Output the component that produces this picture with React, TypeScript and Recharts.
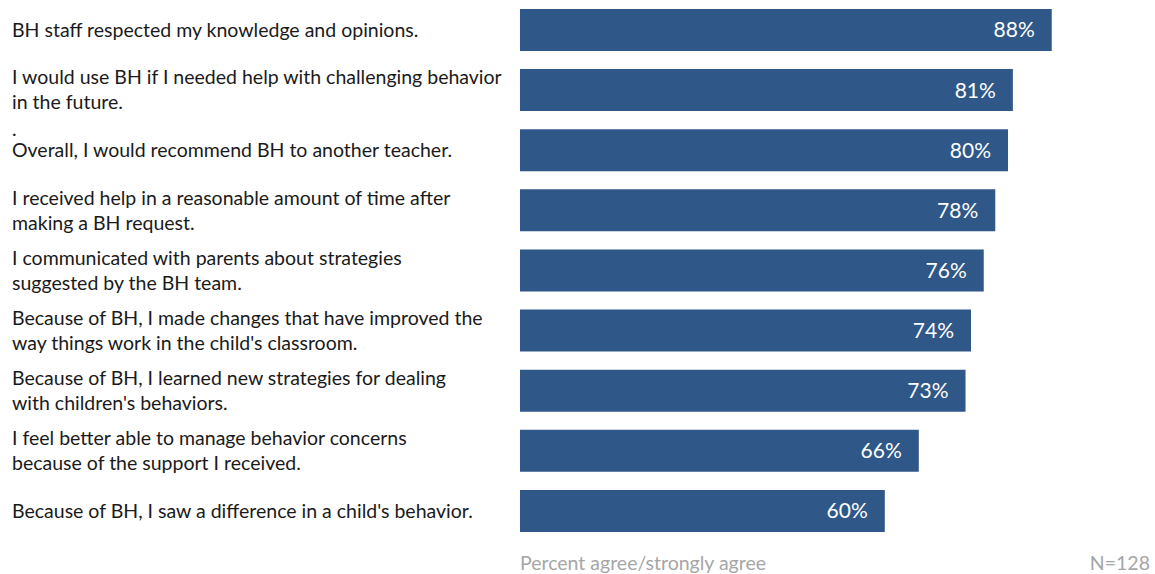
import { BarChart, Bar, XAxis, YAxis, LabelList } from 'recharts'

// statements, top to bottom ("|" = line break)
const statements = [
  'BH staff respected my knowledge and opinions.',
  'I would use BH if I needed help with challenging behavior|in the future.',
  '.|Overall, I would recommend BH to another teacher.',
  'I received help in a reasonable amount of time after|making a BH request.',
  'I communicated with parents about strategies|suggested by the BH team.',
  'Because of BH, I made changes that have improved the|way things work in the child\'s classroom.',
  'Because of BH, I learned new strategies for dealing|with children\'s behaviors.',
  'I feel better able to manage behavior concerns|because of the support I received.',
  'Because of BH, I saw a difference in a child\'s behavior.',
]

// percent agree / strongly agree
const agree = [87.6, 81.2, 80.4, 78.3, 76.4, 74.3, 73.4, 65.7, 60.1]

const data = statements.map((s, i) => ({ statement: s, agree: agree[i] }))

const FONT = 'Lato, "Open Sans", sans-serif'
const GREY = '#a6a6a6'

function StatementTick(props: any) {
  const { y, payload } = props
  const lines: string[] = String(payload.value).split('|')
  const lead = lines[0] === '.' ? 1 : 0
  const rest = lines.slice(lead)
  const lh = 25
  const first = y - ((rest.length - 1) * lh) / 2
  return (
    <text x={12} y={first} textAnchor="start" fontSize={19.5} fill="#1a1a1a" fontFamily={FONT}>
      {lead ? (
        <tspan x={12} y={first - 21} dy="0.35em">
          .
        </tspan>
      ) : null}
      {rest.map((l, i) => (
        <tspan key={i} x={12} y={first + i * lh} dy="0.35em">
          {l}
        </tspan>
      ))}
    </text>
  )
}

export default function App() {
  return (
    <div
      style={{
        position: 'fixed',
        left: 0,
        top: 0,
        width: 1155,
        height: 574,
        overflow: 'hidden',
        background: '#fff',
      }}
    >
      <BarChart
        width={1155}
        height={574}
        data={data}
        layout="vertical"
        margin={{ top: 0, right: 28, bottom: 0, left: 0 }}
      >
        <XAxis
          type="number"
          domain={[0, 100]}
          axisLine={false}
          tickLine={false}
          tick={false}
          height={33}
          label={(p: any) => (
            <text
              x={p.viewBox.x}
              y={p.viewBox.y + 22}
              dy="0.35em"
              fill={GREY}
              fontSize={19.5}
              fontFamily={FONT}
            >
              Percent agree/strongly agree
            </text>
          )}
        />
        <YAxis
          type="category"
          dataKey="statement"
          width={520}
          axisLine={false}
          tickLine={false}
          tick={<StatementTick />}
          interval={0}
        />
        <Bar dataKey="agree" fill="#2f5788" barSize={42} isAnimationActive={false}>
          <LabelList
            dataKey="agree"
            position="insideRight"
            offset={17}
            fill="#ffffff"
            fontSize={21}
            fontFamily={FONT}
            formatter={(v: any) => `${Math.round(Number(v))}%`}
          />
        </Bar>
      </BarChart>
      <div
        style={{
          position: 'absolute',
          right: 5,
          top: 551,
          color: GREY,
          fontSize: 19.5,
          lineHeight: '24px',
          fontFamily: FONT,
        }}
      >
        N=128
      </div>
    </div>
  )
}
